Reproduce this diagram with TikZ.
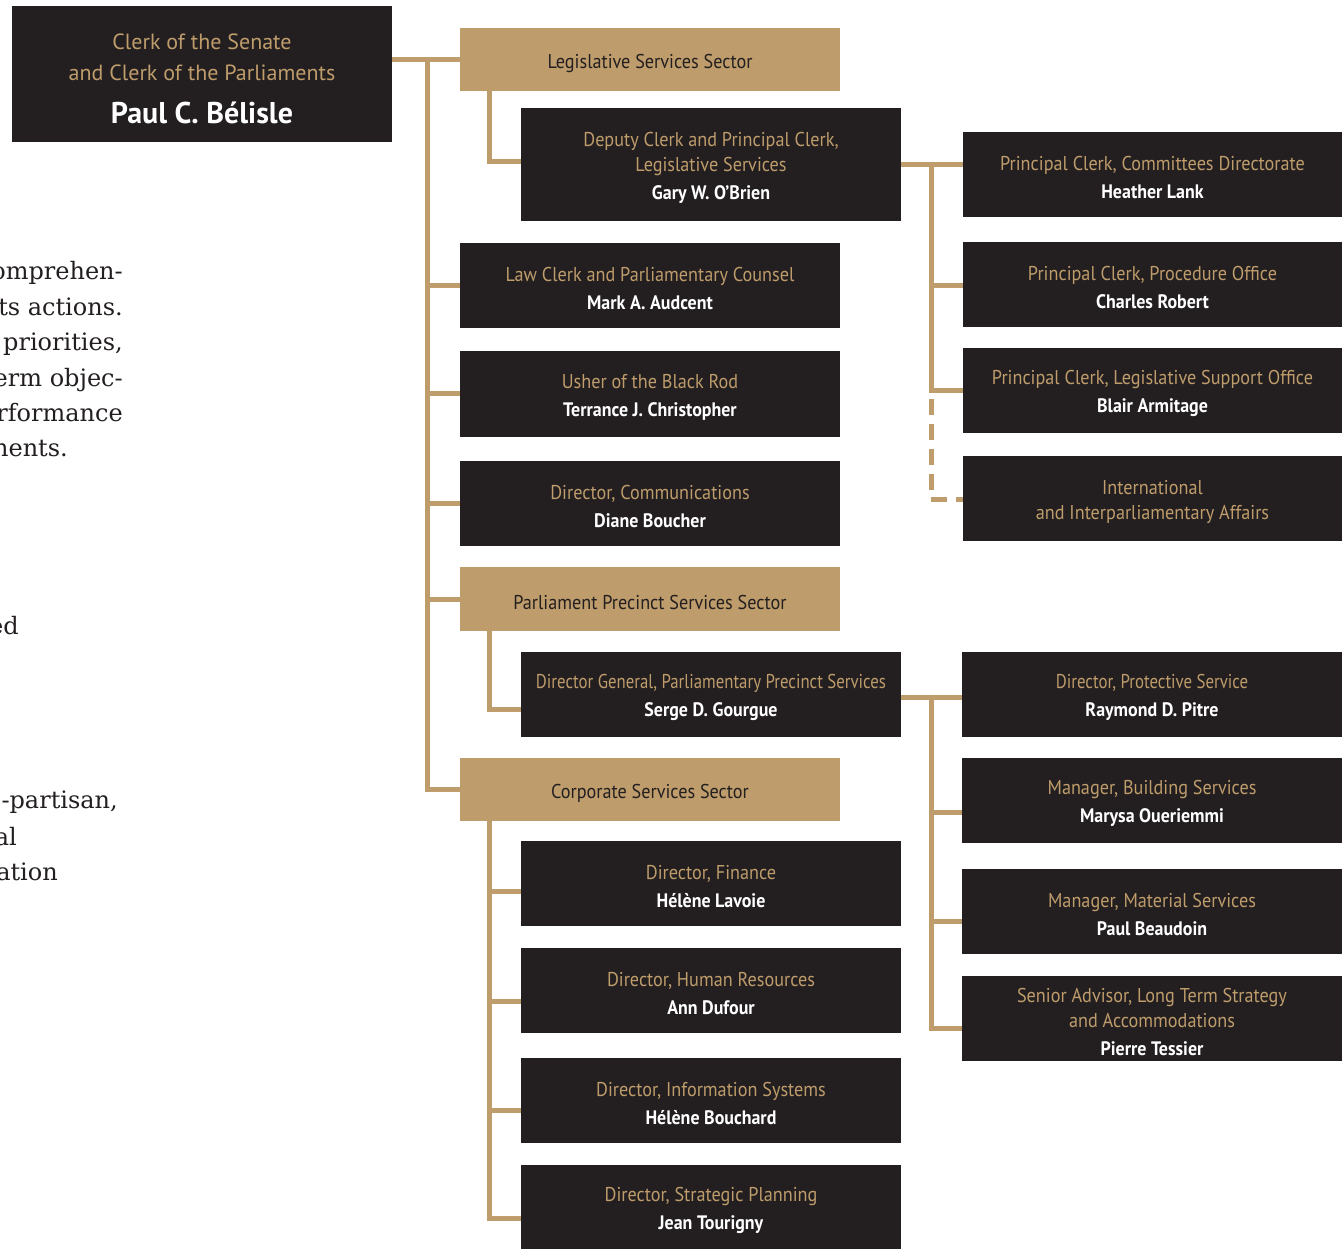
\documentclass[tikz,border=0pt]{standalone}
\usepackage{fontspec}
\setmainfont{PT Sans}
\newfontfamily\condfont[FakeStretch=0.91]{PT Sans}
\newfontfamily\tightfont[FakeStretch=0.84]{PT Sans}
\newfontfamily\namefont[FakeStretch=0.92]{PT Sans}
\newfontfamily\textserif{DejaVu Serif}
\definecolor{senategold}{RGB}{190,156,107}
\definecolor{senatedark}{RGB}{35,31,32}
\newcommand{\person}[1]{\\[3pt]{\color{white}\namefont\bfseries\fontsize{19.5}{25}\selectfont #1}}

\begin{document}
\begin{tikzpicture}[x=1pt,y=-1pt,
  post/.style={fill=senatedark, text=senategold, minimum width=380pt, minimum height=85pt, inner sep=0pt, text width=370pt, align=flush center, font=\condfont\fontsize{20}{25}\selectfont, execute at begin node={\rule{0pt}{20.5pt}}},
  sector/.style={post, fill=senategold, text=senatedark, minimum height=63pt, execute at begin node={\rule{0pt}{22pt}}},
  link/.style={draw=senategold, line width=5pt},
  looselink/.style={link, dash pattern=on 16pt off 9pt},
  prose/.style={anchor=base east, inner sep=0pt, text=senatedark, font=\textserif\fontsize{24}{35}\selectfont}]
\useasboundingbox (0,0) rectangle (1342,1249);

\node[prose] (p1) at (123,280) {omprehen-};
\node[prose] (p2) at (123,316) {ts actions.};
\node[prose] (p3) at (123,351) {priorities,};
\node[prose] (p4) at (123,386) {erm objec-};
\node[prose] (p5) at (123,421) {rformance};
\node[prose] (p6) at (68,456) {nents.};
\node[prose] (p7) at (19,634) {ed};
\node[prose] (p8) at (118,808) {-partisan,};
\node[prose] (p9) at (17,845) {al};
\node[prose] (p10) at (58,880) {ation};

\node[post, minimum height=136pt, text width=380pt, font=\fontsize{22}{31}\selectfont, execute at begin node={\rule{0pt}{24.5pt}}] (clerk) at (202,74)
  {Clerk of the Senate\\and Clerk of the Parliaments\\[12pt]{\color{white}\bfseries\fontsize{30}{36}\selectfont Paul C. Bélisle}};

\node[sector] (leg) at (650,59.5) {Legislative Services Sector};
\node[post, minimum height=113pt] (deputy) at (711,164.5) {Deputy Clerk and Principal Clerk,\\Legislative Services\person{Gary W. O’Brien}};
\node[post] (law) at (650,285.5) {Law Clerk and Parliamentary Counsel\person{Mark A. Audcent}};
\node[post] (usher) at (650,394) {Usher of the Black Rod\person{Terrance J. Christopher}};
\node[post] (comm) at (650,503) {Director, Communications\person{Diane Boucher}};
\node[sector, minimum height=64pt] (precinct) at (650,599) {Parliament Precinct Services Sector};
\node[post, font=\tightfont\fontsize{20}{25}\selectfont] (dg) at (711,694.5) {Director General, Parliamentary Precinct Services\person{Serge D. Gourgue}};
\node[sector] (corp) at (650,789.5) {Corporate Services Sector};
\node[post] (finance) at (711,883.5) {Director, Finance\person{Hélène Lavoie}};
\node[post] (hr) at (711,990) {Director, Human Resources\person{Ann Dufour}};
\node[post] (infosys) at (711,1100) {Director, Information Systems\person{Hélène Bouchard}};
\node[post, minimum height=84pt] (strategic) at (711,1207) {Director, Strategic Planning\person{Jean Tourigny}};

\node[post, minimum width=379pt] (committees) at (1152.5,174.5) {Principal Clerk, Committees Directorate\person{Heather Lank}};
\node[post, minimum width=379pt] (procedure) at (1152.5,284.5) {Principal Clerk, Procedure Office\person{Charles Robert}};
\node[post, minimum width=379pt] (legsupport) at (1152.5,390.5) {Principal Clerk, Legislative Support Office\person{Blair Armitage}};
\node[post, minimum width=379pt] (intl) at (1152.5,498.5) {International\\and Interparliamentary Affairs};

\node[post, font=\tightfont\fontsize{20}{25}\selectfont] (protective) at (1152,694.5) {Director, Protective Service\person{Raymond D. Pitre}};
\node[post] (building) at (1152,800.5) {Manager, Building Services\person{Marysa Oueriemmi}};
\node[post] (material) at (1152,911.5) {Manager, Material Services\person{Paul Beaudoin}};
\node[post] (senior) at (1152,1018.5) {Senior Advisor, Long Term Strategy\\and Accommodations\person{Pierre Tessier}};

\coordinate (trunk) at (427,0);
\coordinate (lb) at (489,0);
\coordinate (rb) at (931,0);
\foreach \n/\d in {deputy/2.5,dg/-15,finance/-8,hr/-11,infosys/-10,strategic/-11,procedure/-1.5,legsupport/-0.5,intl/-0.5,protective/-2.5,building/-12,material/-10,senior/-10}
  \coordinate (\n-in) at ([yshift=\d pt]\n.west);

\draw[link] (clerk.east |- leg.west) -- (leg.west);
\draw[link] (trunk |- leg.west) -- (trunk |- corp.west) -- (corp.west);
\foreach \n in {law,usher,comm,precinct}
  \draw[link] (trunk |- \n.west) -- (\n.west);

\draw[link] (lb |- leg.south) |- (deputy-in);
\draw[link] (lb |- precinct.south) |- (dg-in);
\draw[link] (lb |- corp.south) |- (strategic-in);
\foreach \n in {finance,hr,infosys}
  \draw[link] (lb |- \n-in) -- (\n-in);

\draw[link] (deputy.east) -- (deputy.east -| committees.west);
\draw[link] (rb |- deputy.east) -- (rb |- legsupport-in) -- (legsupport-in);
\draw[link] (rb |- procedure-in) -- (procedure-in);
\draw[looselink] (rb |- legsupport-in) ++(0,8) |- (intl-in);

\draw[link] (dg.east |- protective-in) -- (protective-in);
\draw[link] (rb |- protective-in) -- (rb |- senior-in) -- (senior-in);
\foreach \n in {building,material}
  \draw[link] (rb |- \n-in) -- (\n-in);
\end{tikzpicture}
\end{document}
